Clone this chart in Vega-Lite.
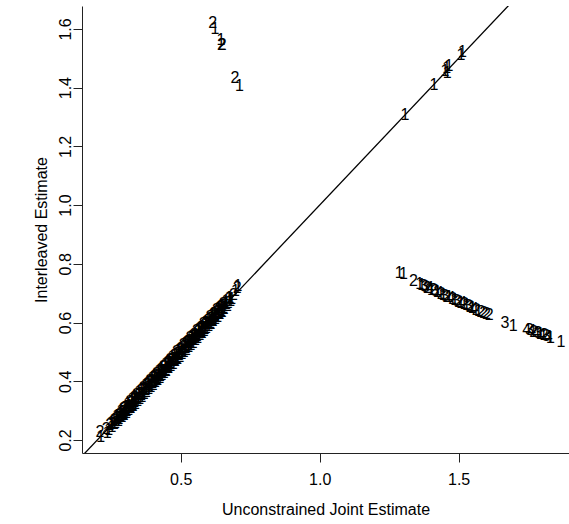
{
  "$schema": "https://vega.github.io/schema/vega-lite/v6.json",
  "width": 487,
  "height": 447,
  "autosize": {"type": "none"},
  "padding": {"left": 82, "top": 6, "right": 0, "bottom": 71},
  "background": "white",
  "config": {
    "view": {"stroke": null},
    "font": "Liberation Sans",
    "axis": {
      "grid": false,
      "domainColor": "#222",
      "tickColor": "#222",
      "tickSize": 9,
      "labelFontSize": 16,
      "labelColor": "black",
      "labelFont": "Liberation Sans",
      "titleFontSize": 16,
      "titleFontWeight": "normal",
      "titleColor": "black",
      "titleFont": "Liberation Sans"
    }
  },
  "datasets": {
    "identity": [
      {"joint": 0, "inter": 0},
      {"joint": 2, "inter": 2}
    ],
    "estimates": [
      {"joint": 0.212, "inter": 0.209, "label": "1"},
      {"joint": 0.210, "inter": 0.228, "label": "2"},
      {"joint": 0.232, "inter": 0.236, "label": "2"},
      {"joint": 0.241, "inter": 0.235, "label": "1"},
      {"joint": 0.249, "inter": 0.258, "label": "1"},
      {"joint": 0.256, "inter": 0.254, "label": "2"},
      {"joint": 0.262, "inter": 0.254, "label": "1"},
      {"joint": 0.268, "inter": 0.274, "label": "1"},
      {"joint": 0.273, "inter": 0.274, "label": "2"},
      {"joint": 0.278, "inter": 0.273, "label": "1"},
      {"joint": 0.283, "inter": 0.291, "label": "1"},
      {"joint": 0.287, "inter": 0.278, "label": "2"},
      {"joint": 0.291, "inter": 0.295, "label": "1"},
      {"joint": 0.295, "inter": 0.289, "label": "1"},
      {"joint": 0.299, "inter": 0.308, "label": "2"},
      {"joint": 0.303, "inter": 0.301, "label": "1"},
      {"joint": 0.307, "inter": 0.299, "label": "2"},
      {"joint": 0.311, "inter": 0.317, "label": "1"},
      {"joint": 0.315, "inter": 0.316, "label": "1"},
      {"joint": 0.319, "inter": 0.314, "label": "2"},
      {"joint": 0.323, "inter": 0.331, "label": "1"},
      {"joint": 0.327, "inter": 0.318, "label": "1"},
      {"joint": 0.331, "inter": 0.335, "label": "2"},
      {"joint": 0.335, "inter": 0.329, "label": "1"},
      {"joint": 0.339, "inter": 0.348, "label": "1"},
      {"joint": 0.343, "inter": 0.341, "label": "2"},
      {"joint": 0.347, "inter": 0.339, "label": "1"},
      {"joint": 0.351, "inter": 0.357, "label": "1"},
      {"joint": 0.355, "inter": 0.356, "label": "2"},
      {"joint": 0.359, "inter": 0.354, "label": "1"},
      {"joint": 0.363, "inter": 0.371, "label": "1"},
      {"joint": 0.367, "inter": 0.358, "label": "2"},
      {"joint": 0.371, "inter": 0.375, "label": "1"},
      {"joint": 0.375, "inter": 0.369, "label": "1"},
      {"joint": 0.379, "inter": 0.388, "label": "2"},
      {"joint": 0.383, "inter": 0.381, "label": "1"},
      {"joint": 0.387, "inter": 0.379, "label": "1"},
      {"joint": 0.391, "inter": 0.397, "label": "2"},
      {"joint": 0.395, "inter": 0.396, "label": "1"},
      {"joint": 0.399, "inter": 0.394, "label": "1"},
      {"joint": 0.403, "inter": 0.411, "label": "2"},
      {"joint": 0.407, "inter": 0.398, "label": "1"},
      {"joint": 0.411, "inter": 0.415, "label": "1"},
      {"joint": 0.415, "inter": 0.409, "label": "2"},
      {"joint": 0.419, "inter": 0.428, "label": "1"},
      {"joint": 0.423, "inter": 0.421, "label": "1"},
      {"joint": 0.427, "inter": 0.419, "label": "2"},
      {"joint": 0.431, "inter": 0.437, "label": "1"},
      {"joint": 0.435, "inter": 0.436, "label": "1"},
      {"joint": 0.439, "inter": 0.434, "label": "2"},
      {"joint": 0.443, "inter": 0.451, "label": "1"},
      {"joint": 0.447, "inter": 0.438, "label": "1"},
      {"joint": 0.451, "inter": 0.455, "label": "2"},
      {"joint": 0.455, "inter": 0.449, "label": "1"},
      {"joint": 0.459, "inter": 0.468, "label": "1"},
      {"joint": 0.463, "inter": 0.461, "label": "2"},
      {"joint": 0.467, "inter": 0.459, "label": "1"},
      {"joint": 0.471, "inter": 0.477, "label": "1"},
      {"joint": 0.475, "inter": 0.476, "label": "2"},
      {"joint": 0.479, "inter": 0.474, "label": "1"},
      {"joint": 0.483, "inter": 0.491, "label": "1"},
      {"joint": 0.487, "inter": 0.478, "label": "2"},
      {"joint": 0.491, "inter": 0.495, "label": "1"},
      {"joint": 0.495, "inter": 0.489, "label": "1"},
      {"joint": 0.499, "inter": 0.508, "label": "2"},
      {"joint": 0.503, "inter": 0.501, "label": "1"},
      {"joint": 0.507, "inter": 0.499, "label": "1"},
      {"joint": 0.511, "inter": 0.517, "label": "2"},
      {"joint": 0.515, "inter": 0.516, "label": "1"},
      {"joint": 0.519, "inter": 0.514, "label": "1"},
      {"joint": 0.523, "inter": 0.531, "label": "2"},
      {"joint": 0.527, "inter": 0.518, "label": "1"},
      {"joint": 0.531, "inter": 0.535, "label": "1"},
      {"joint": 0.535, "inter": 0.529, "label": "2"},
      {"joint": 0.539, "inter": 0.548, "label": "1"},
      {"joint": 0.543, "inter": 0.541, "label": "1"},
      {"joint": 0.547, "inter": 0.539, "label": "2"},
      {"joint": 0.551, "inter": 0.557, "label": "1"},
      {"joint": 0.555, "inter": 0.556, "label": "1"},
      {"joint": 0.559, "inter": 0.554, "label": "2"},
      {"joint": 0.563, "inter": 0.571, "label": "1"},
      {"joint": 0.567, "inter": 0.558, "label": "1"},
      {"joint": 0.571, "inter": 0.575, "label": "2"},
      {"joint": 0.575, "inter": 0.569, "label": "1"},
      {"joint": 0.579, "inter": 0.588, "label": "1"},
      {"joint": 0.583, "inter": 0.581, "label": "2"},
      {"joint": 0.587, "inter": 0.579, "label": "1"},
      {"joint": 0.591, "inter": 0.597, "label": "1"},
      {"joint": 0.595, "inter": 0.596, "label": "2"},
      {"joint": 0.599, "inter": 0.594, "label": "1"},
      {"joint": 0.603, "inter": 0.611, "label": "1"},
      {"joint": 0.607, "inter": 0.598, "label": "2"},
      {"joint": 0.611, "inter": 0.615, "label": "1"},
      {"joint": 0.615, "inter": 0.609, "label": "1"},
      {"joint": 0.619, "inter": 0.628, "label": "2"},
      {"joint": 0.623, "inter": 0.621, "label": "1"},
      {"joint": 0.627, "inter": 0.619, "label": "1"},
      {"joint": 0.631, "inter": 0.637, "label": "2"},
      {"joint": 0.635, "inter": 0.636, "label": "1"},
      {"joint": 0.639, "inter": 0.634, "label": "1"},
      {"joint": 0.643, "inter": 0.651, "label": "2"},
      {"joint": 0.647, "inter": 0.638, "label": "1"},
      {"joint": 0.651, "inter": 0.655, "label": "1"},
      {"joint": 0.655, "inter": 0.649, "label": "2"},
      {"joint": 0.660, "inter": 0.668, "label": "1"},
      {"joint": 0.665, "inter": 0.662, "label": "1"},
      {"joint": 0.671, "inter": 0.667, "label": "2"},
      {"joint": 0.677, "inter": 0.684, "label": "1"},
      {"joint": 0.684, "inter": 0.681, "label": "1"},
      {"joint": 0.690, "inter": 0.694, "label": "2"},
      {"joint": 0.697, "inter": 0.706, "label": "1"},
      {"joint": 0.703, "inter": 0.716, "label": "2"},
      {"joint": 0.706, "inter": 0.724, "label": "1"},
      {"joint": 0.236, "inter": 0.224, "label": "1"},
      {"joint": 0.245, "inter": 0.250, "label": "2"},
      {"joint": 0.253, "inter": 0.243, "label": "1"},
      {"joint": 0.259, "inter": 0.268, "label": "1"},
      {"joint": 0.265, "inter": 0.259, "label": "2"},
      {"joint": 0.270, "inter": 0.283, "label": "1"},
      {"joint": 0.276, "inter": 0.264, "label": "1"},
      {"joint": 0.281, "inter": 0.286, "label": "2"},
      {"joint": 0.285, "inter": 0.298, "label": "1"},
      {"joint": 0.289, "inter": 0.279, "label": "1"},
      {"joint": 0.293, "inter": 0.305, "label": "2"},
      {"joint": 0.297, "inter": 0.284, "label": "1"},
      {"joint": 0.301, "inter": 0.314, "label": "1"},
      {"joint": 0.305, "inter": 0.292, "label": "2"},
      {"joint": 0.309, "inter": 0.322, "label": "1"},
      {"joint": 0.313, "inter": 0.303, "label": "1"},
      {"joint": 0.317, "inter": 0.330, "label": "2"},
      {"joint": 0.321, "inter": 0.308, "label": "1"},
      {"joint": 0.325, "inter": 0.338, "label": "1"},
      {"joint": 0.329, "inter": 0.317, "label": "2"},
      {"joint": 0.333, "inter": 0.346, "label": "1"},
      {"joint": 0.337, "inter": 0.324, "label": "1"},
      {"joint": 0.341, "inter": 0.354, "label": "2"},
      {"joint": 0.345, "inter": 0.332, "label": "1"},
      {"joint": 0.349, "inter": 0.362, "label": "1"},
      {"joint": 0.353, "inter": 0.340, "label": "2"},
      {"joint": 0.357, "inter": 0.370, "label": "1"},
      {"joint": 0.361, "inter": 0.348, "label": "1"},
      {"joint": 0.365, "inter": 0.378, "label": "2"},
      {"joint": 0.369, "inter": 0.356, "label": "1"},
      {"joint": 0.373, "inter": 0.386, "label": "1"},
      {"joint": 0.377, "inter": 0.364, "label": "2"},
      {"joint": 0.381, "inter": 0.394, "label": "1"},
      {"joint": 0.385, "inter": 0.372, "label": "1"},
      {"joint": 0.389, "inter": 0.402, "label": "2"},
      {"joint": 0.393, "inter": 0.380, "label": "1"},
      {"joint": 0.397, "inter": 0.410, "label": "1"},
      {"joint": 0.401, "inter": 0.388, "label": "2"},
      {"joint": 0.405, "inter": 0.418, "label": "1"},
      {"joint": 0.409, "inter": 0.396, "label": "1"},
      {"joint": 0.413, "inter": 0.426, "label": "2"},
      {"joint": 0.417, "inter": 0.404, "label": "1"},
      {"joint": 0.421, "inter": 0.434, "label": "1"},
      {"joint": 0.425, "inter": 0.412, "label": "2"},
      {"joint": 0.429, "inter": 0.442, "label": "1"},
      {"joint": 0.433, "inter": 0.420, "label": "1"},
      {"joint": 0.437, "inter": 0.450, "label": "2"},
      {"joint": 0.441, "inter": 0.428, "label": "1"},
      {"joint": 0.445, "inter": 0.458, "label": "1"},
      {"joint": 0.449, "inter": 0.436, "label": "2"},
      {"joint": 0.453, "inter": 0.466, "label": "1"},
      {"joint": 0.457, "inter": 0.444, "label": "1"},
      {"joint": 0.461, "inter": 0.474, "label": "2"},
      {"joint": 0.465, "inter": 0.452, "label": "1"},
      {"joint": 0.469, "inter": 0.482, "label": "1"},
      {"joint": 0.473, "inter": 0.460, "label": "2"},
      {"joint": 0.477, "inter": 0.490, "label": "1"},
      {"joint": 0.481, "inter": 0.468, "label": "1"},
      {"joint": 0.485, "inter": 0.498, "label": "2"},
      {"joint": 0.489, "inter": 0.476, "label": "1"},
      {"joint": 0.493, "inter": 0.506, "label": "1"},
      {"joint": 0.497, "inter": 0.484, "label": "2"},
      {"joint": 0.501, "inter": 0.514, "label": "1"},
      {"joint": 0.505, "inter": 0.492, "label": "1"},
      {"joint": 0.509, "inter": 0.522, "label": "2"},
      {"joint": 0.513, "inter": 0.500, "label": "1"},
      {"joint": 0.517, "inter": 0.530, "label": "1"},
      {"joint": 0.521, "inter": 0.508, "label": "2"},
      {"joint": 0.525, "inter": 0.538, "label": "1"},
      {"joint": 0.529, "inter": 0.516, "label": "1"},
      {"joint": 0.533, "inter": 0.546, "label": "2"},
      {"joint": 0.537, "inter": 0.524, "label": "1"},
      {"joint": 0.541, "inter": 0.554, "label": "1"},
      {"joint": 0.545, "inter": 0.532, "label": "2"},
      {"joint": 0.549, "inter": 0.562, "label": "1"},
      {"joint": 0.553, "inter": 0.540, "label": "1"},
      {"joint": 0.557, "inter": 0.570, "label": "2"},
      {"joint": 0.561, "inter": 0.548, "label": "1"},
      {"joint": 0.565, "inter": 0.578, "label": "1"},
      {"joint": 0.569, "inter": 0.556, "label": "2"},
      {"joint": 0.573, "inter": 0.586, "label": "1"},
      {"joint": 0.577, "inter": 0.564, "label": "1"},
      {"joint": 0.581, "inter": 0.594, "label": "2"},
      {"joint": 0.585, "inter": 0.572, "label": "1"},
      {"joint": 0.589, "inter": 0.602, "label": "1"},
      {"joint": 0.593, "inter": 0.580, "label": "2"},
      {"joint": 0.597, "inter": 0.610, "label": "1"},
      {"joint": 0.601, "inter": 0.588, "label": "1"},
      {"joint": 0.605, "inter": 0.618, "label": "2"},
      {"joint": 0.609, "inter": 0.596, "label": "1"},
      {"joint": 0.613, "inter": 0.626, "label": "1"},
      {"joint": 0.617, "inter": 0.604, "label": "2"},
      {"joint": 0.621, "inter": 0.634, "label": "1"},
      {"joint": 0.625, "inter": 0.612, "label": "1"},
      {"joint": 0.629, "inter": 0.642, "label": "2"},
      {"joint": 0.633, "inter": 0.620, "label": "1"},
      {"joint": 0.637, "inter": 0.650, "label": "1"},
      {"joint": 0.641, "inter": 0.628, "label": "2"},
      {"joint": 0.645, "inter": 0.658, "label": "1"},
      {"joint": 0.649, "inter": 0.636, "label": "1"},
      {"joint": 0.653, "inter": 0.664, "label": "2"},
      {"joint": 0.657, "inter": 0.646, "label": "1"},
      {"joint": 0.663, "inter": 0.674, "label": "1"},
      {"joint": 0.668, "inter": 0.656, "label": "2"},
      {"joint": 0.674, "inter": 0.682, "label": "1"},
      {"joint": 0.680, "inter": 0.672, "label": "1"},
      {"joint": 0.262, "inter": 0.266, "label": "2"},
      {"joint": 0.270, "inter": 0.265, "label": "4"},
      {"joint": 0.277, "inter": 0.282, "label": "2"},
      {"joint": 0.285, "inter": 0.280, "label": "3"},
      {"joint": 0.292, "inter": 0.297, "label": "2"},
      {"joint": 0.300, "inter": 0.295, "label": "4"},
      {"joint": 0.307, "inter": 0.312, "label": "2"},
      {"joint": 0.315, "inter": 0.309, "label": "3"},
      {"joint": 0.322, "inter": 0.327, "label": "2"},
      {"joint": 0.330, "inter": 0.324, "label": "4"},
      {"joint": 0.337, "inter": 0.342, "label": "2"},
      {"joint": 0.345, "inter": 0.339, "label": "3"},
      {"joint": 0.352, "inter": 0.357, "label": "2"},
      {"joint": 0.360, "inter": 0.354, "label": "4"},
      {"joint": 0.367, "inter": 0.372, "label": "2"},
      {"joint": 0.375, "inter": 0.369, "label": "3"},
      {"joint": 0.382, "inter": 0.387, "label": "2"},
      {"joint": 0.390, "inter": 0.384, "label": "4"},
      {"joint": 0.397, "inter": 0.402, "label": "2"},
      {"joint": 0.405, "inter": 0.399, "label": "3"},
      {"joint": 0.412, "inter": 0.417, "label": "2"},
      {"joint": 0.420, "inter": 0.414, "label": "4"},
      {"joint": 0.427, "inter": 0.432, "label": "2"},
      {"joint": 0.435, "inter": 0.429, "label": "3"},
      {"joint": 0.442, "inter": 0.447, "label": "2"},
      {"joint": 0.450, "inter": 0.444, "label": "4"},
      {"joint": 0.457, "inter": 0.462, "label": "2"},
      {"joint": 0.465, "inter": 0.459, "label": "3"},
      {"joint": 0.472, "inter": 0.477, "label": "2"},
      {"joint": 0.480, "inter": 0.474, "label": "4"},
      {"joint": 0.487, "inter": 0.492, "label": "2"},
      {"joint": 0.495, "inter": 0.489, "label": "3"},
      {"joint": 0.502, "inter": 0.507, "label": "2"},
      {"joint": 0.510, "inter": 0.504, "label": "4"},
      {"joint": 0.517, "inter": 0.522, "label": "2"},
      {"joint": 0.525, "inter": 0.519, "label": "3"},
      {"joint": 0.532, "inter": 0.537, "label": "2"},
      {"joint": 0.540, "inter": 0.534, "label": "4"},
      {"joint": 0.547, "inter": 0.552, "label": "2"},
      {"joint": 0.555, "inter": 0.549, "label": "3"},
      {"joint": 0.562, "inter": 0.567, "label": "2"},
      {"joint": 0.570, "inter": 0.564, "label": "4"},
      {"joint": 0.577, "inter": 0.582, "label": "2"},
      {"joint": 0.585, "inter": 0.579, "label": "3"},
      {"joint": 0.592, "inter": 0.597, "label": "2"},
      {"joint": 0.600, "inter": 0.594, "label": "4"},
      {"joint": 0.607, "inter": 0.612, "label": "2"},
      {"joint": 0.615, "inter": 0.609, "label": "3"},
      {"joint": 0.622, "inter": 0.627, "label": "2"},
      {"joint": 0.630, "inter": 0.624, "label": "4"},
      {"joint": 0.637, "inter": 0.642, "label": "2"},
      {"joint": 0.645, "inter": 0.639, "label": "3"},
      {"joint": 0.652, "inter": 0.657, "label": "2"},

      {"joint": 0.615, "inter": 1.620, "label": "2"},
      {"joint": 0.623, "inter": 1.600, "label": "1"},
      {"joint": 0.645, "inter": 1.563, "label": "1"},
      {"joint": 0.647, "inter": 1.546, "label": "2"},
      {"joint": 0.649, "inter": 1.544, "label": "2"},
      {"joint": 0.695, "inter": 1.433, "label": "2"},
      {"joint": 0.711, "inter": 1.407, "label": "1"},

      {"joint": 1.307, "inter": 1.308, "label": "1"},
      {"joint": 1.411, "inter": 1.410, "label": "1"},
      {"joint": 1.451, "inter": 1.455, "label": "1"},
      {"joint": 1.459, "inter": 1.450, "label": "1"},
      {"joint": 1.457, "inter": 1.467, "label": "1"},
      {"joint": 1.465, "inter": 1.475, "label": "1"},
      {"joint": 1.508, "inter": 1.512, "label": "1"},
      {"joint": 1.514, "inter": 1.520, "label": "1"},

      {"joint": 1.286, "inter": 0.770, "label": "1"},
      {"joint": 1.301, "inter": 0.766, "label": "1"},
      {"joint": 1.337, "inter": 0.740, "label": "2"},
      {"joint": 1.360, "inter": 0.731, "label": "1"},
      {"joint": 1.367, "inter": 0.727, "label": "1"},
      {"joint": 1.374, "inter": 0.725, "label": "3"},
      {"joint": 1.381, "inter": 0.722, "label": "3"},
      {"joint": 1.388, "inter": 0.718, "label": "2"},
      {"joint": 1.395, "inter": 0.716, "label": "4"},
      {"joint": 1.402, "inter": 0.712, "label": "1"},
      {"joint": 1.409, "inter": 0.710, "label": "2"},
      {"joint": 1.416, "inter": 0.706, "label": "3"},
      {"joint": 1.423, "inter": 0.704, "label": "1"},
      {"joint": 1.430, "inter": 0.700, "label": "4"},
      {"joint": 1.437, "inter": 0.698, "label": "2"},
      {"joint": 1.444, "inter": 0.694, "label": "1"},
      {"joint": 1.451, "inter": 0.692, "label": "3"},
      {"joint": 1.458, "inter": 0.688, "label": "2"},
      {"joint": 1.465, "inter": 0.686, "label": "1"},
      {"joint": 1.472, "inter": 0.683, "label": "4"},
      {"joint": 1.479, "inter": 0.680, "label": "2"},
      {"joint": 1.486, "inter": 0.677, "label": "1"},
      {"joint": 1.493, "inter": 0.674, "label": "3"},
      {"joint": 1.500, "inter": 0.671, "label": "2"},
      {"joint": 1.507, "inter": 0.668, "label": "1"},
      {"joint": 1.514, "inter": 0.665, "label": "4"},
      {"joint": 1.521, "inter": 0.662, "label": "2"},
      {"joint": 1.528, "inter": 0.659, "label": "1"},
      {"joint": 1.535, "inter": 0.656, "label": "3"},
      {"joint": 1.542, "inter": 0.653, "label": "2"},
      {"joint": 1.549, "inter": 0.650, "label": "1"},
      {"joint": 1.556, "inter": 0.647, "label": "4"},
      {"joint": 1.563, "inter": 0.644, "label": "2"},
      {"joint": 1.571, "inter": 0.640, "label": "1"},
      {"joint": 1.580, "inter": 0.636, "label": "2"},
      {"joint": 1.590, "inter": 0.632, "label": "2"},
      {"joint": 1.600, "inter": 0.628, "label": "2"},
      {"joint": 1.610, "inter": 0.624, "label": "2"},
      {"joint": 1.667, "inter": 0.600, "label": "3"},
      {"joint": 1.696, "inter": 0.589, "label": "1"},
      {"joint": 1.745, "inter": 0.575, "label": "4"},
      {"joint": 1.755, "inter": 0.573, "label": "3"},
      {"joint": 1.763, "inter": 0.570, "label": "4"},
      {"joint": 1.770, "inter": 0.567, "label": "2"},
      {"joint": 1.778, "inter": 0.565, "label": "4"},
      {"joint": 1.785, "inter": 0.563, "label": "3"},
      {"joint": 1.793, "inter": 0.561, "label": "1"},
      {"joint": 1.800, "inter": 0.558, "label": "4"},
      {"joint": 1.808, "inter": 0.556, "label": "2"},
      {"joint": 1.815, "inter": 0.554, "label": "3"},
      {"joint": 1.822, "inter": 0.552, "label": "4"},
      {"joint": 1.830, "inter": 0.549, "label": "1"},
      {"joint": 1.868, "inter": 0.535, "label": "1"}
    ]
  },
  "layer": [
    {
      "description": "top edge of the plot box",
      "mark": {"type": "rule", "color": "#222", "strokeWidth": 1},
      "encoding": {
        "y": {"datum": 1.678, "type": "quantitative", "scale": {"domain": [0.1557, 1.678], "nice": false, "zero": false}}
      }
    },
    {
      "description": "identity line y = x",
      "data": {"name": "identity"},
      "mark": {"type": "line", "color": "black", "strokeWidth": 1.3, "clip": true},
      "encoding": {
        "x": {"field": "joint", "type": "quantitative", "scale": {"domain": [0.145, 1.897], "nice": false, "zero": false}},
        "y": {"field": "inter", "type": "quantitative", "scale": {"domain": [0.1557, 1.678], "nice": false, "zero": false}}
      }
    },
    {
      "data": {"name": "estimates"},
      "mark": {"type": "text", "font": "Liberation Sans", "fontSize": 16, "fill": "black", "align": "center", "baseline": "middle"},
      "encoding": {
        "x": {
          "field": "joint", "type": "quantitative",
          "scale": {"domain": [0.145, 1.897], "nice": false, "zero": false},
          "axis": {"title": "Unconstrained Joint Estimate", "values": [0.5, 1.0, 1.5], "format": ".1f", "labelPadding": 9, "titlePadding": 14, "labelFlush": false}
        },
        "y": {
          "field": "inter", "type": "quantitative",
          "scale": {"domain": [0.1557, 1.678], "nice": false, "zero": false},
          "axis": {"title": "Interleaved Estimate", "values": [0.2, 0.4, 0.6, 0.8, 1.0, 1.2, 1.4, 1.6], "format": ".1f", "labelAngle": -90, "labelAlign": "center", "labelBaseline": "bottom", "labelPadding": 0, "titlePadding": 8, "labelFlush": false}
        },
        "text": {"field": "label"}
      }
    }
  ]
}
